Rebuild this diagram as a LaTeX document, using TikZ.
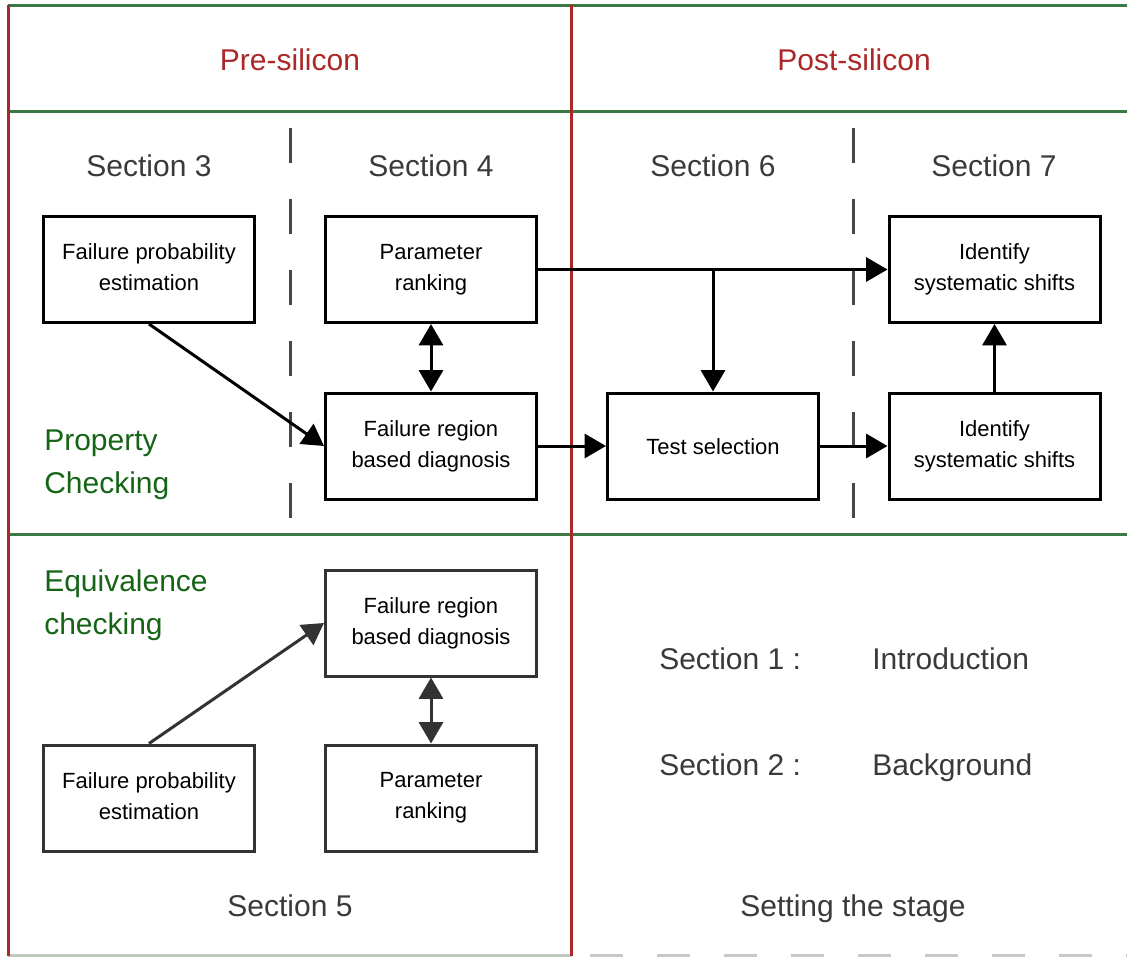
\documentclass[tikz,border=0pt]{standalone}
\usepackage{fontspec}
\setmainfont{Liberation Sans}
\usetikzlibrary{arrows.meta}
\definecolor{lanered}{RGB}{172,40,40}
\definecolor{lanegreen}{RGB}{58,120,68}
\definecolor{labelgreen}{RGB}{22,100,22}
\definecolor{softline}{RGB}{190,204,190}
\definecolor{dashgrey}{RGB}{200,200,200}
\definecolor{textgrey}{RGB}{58,58,58}
\definecolor{boxgrey}{RGB}{51,51,51}
\tikzset{
  stepbox/.style={draw=black, line width=2.25pt, fill=white, minimum width=158.25pt,
    minimum height=79.5pt, inner sep=0pt, align=center,
    execute at begin node={\rule{0pt}{15.6pt}},
    execute at end node={\rule[-3.5pt]{0pt}{1pt}},
    font=\fontsize{16.5pt}{23.25pt}\selectfont},
  greybox/.style={stepbox, draw=boxgrey},
  flow/.style={draw=black, line width=2.25pt, -{Triangle[length=16pt,width=18pt]}},
  flowboth/.style={flow, {Triangle[length=16pt,width=18pt]}-{Triangle[length=16pt,width=18pt]}},
  greyflow/.style={flow, draw=boxgrey, fill=boxgrey},
  greyboth/.style={flowboth, draw=boxgrey, fill=boxgrey},
  phase/.style={text=lanered, font=\fontsize{22.5pt}{27pt}\selectfont, inner sep=0pt,
    text height=16.1pt, text depth=0pt},
  secname/.style={text=textgrey, font=\fontsize{22.5pt}{27pt}\selectfont, inner sep=0pt,
    text height=16.1pt, text depth=0pt},
  kind/.style={text=labelgreen, align=left, inner sep=0pt,
    font=\fontsize{22.5pt}{32.25pt}\selectfont},
  greenrule/.style={draw=lanegreen, line width=2.25pt},
  redrule/.style={draw=lanered, line width=2.25pt},
  divider/.style={draw=boxgrey!90, line width=2.25pt, dash pattern=on 26.25pt off 27pt}
}
\begin{document}
\begin{tikzpicture}[x=0.75pt, y=-0.75pt]
\useasboundingbox (0,0) rectangle (1127,956);
\fill[white] (0,0) rectangle (1127,956);

% lane rules
\draw[greenrule] (8,6) -- (1127,6);
\draw[greenrule] (8,111) -- (1127,111);
\draw[greenrule] (8,534) -- (1127,534);
\draw[draw=softline, line width=2.25pt] (8,955.5) -- (572,955.5);
\draw[draw=dashgrey, line width=2.25pt, dash pattern=on 24.75pt off 25.5pt] (590,955.5) -- (1127,955.5);
\draw[redrule] (8.5,5) -- (8.5,956);
\draw[redrule] (571.5,5) -- (571.5,956);

% section dividers
\draw[divider] (290,128) -- (290,518);
\draw[divider] (853,128) -- (853,518);

% headings
\node[phase] (pre) at (290,60) {Pre-silicon};
\node[phase] (post) at (854,60) {Post-silicon};
\node[secname] (s3) at (149,166) {Section 3};
\node[secname] (s4) at (431,166) {Section 4};
\node[secname] (s6) at (713,166) {Section 6};
\node[secname] (s7) at (994,166) {Section 7};

\node[kind, anchor=west] (prop) at (44,465) {Property\\Checking};
\node[kind, anchor=west] (equiv) at (44,605.5) {Equivalence\\checking};

% property checking flow
\node[stepbox] (fpe1) at (149,269.5) {Failure probability\\estimation};
\node[stepbox] (pr1) at (431,269.5) {Parameter\\ranking};
\node[stepbox] (frd1) at (431,446) {Failure region\\based diagnosis};
\node[stepbox] (ts) at (713,446) {Test selection};
\node[stepbox] (id1) at (994.5,269.5) {Identify\\systematic shifts};
\node[stepbox] (id2) at (994.5,446) {Identify\\systematic shifts};

\coordinate (branch) at (pr1.east -| ts.north);
\draw[flow] (fpe1.south) -- (frd1.west);
\draw[flowboth] (pr1) -- (frd1);
\draw[flow] (frd1) -- (ts);
\draw[flow] (ts) -- (id2);
\draw[flow] (id2) -- (id1);
\draw[flow] (pr1.east) -- (id1.west);
\draw[flow] (branch) -- (ts.north);

% equivalence checking flow
\node[greybox] (frd2) at (431,623) {Failure region\\based diagnosis};
\node[greybox] (fpe2) at (149,798) {Failure probability\\estimation};
\node[greybox] (pr2) at (431,798) {Parameter\\ranking};
\draw[greyflow] (fpe2.north) -- (frd2.west);
\draw[greyboth] (frd2) -- (pr2);

\node[secname] (s5) at (290,906) {Section 5};

% introductory sections
\node[secname, anchor=west] (s1) at (659,659) {Section 1 :};
\node[secname, anchor=west] (intro) at (872,659) {Introduction};
\node[secname, anchor=west] (s2) at (659,765) {Section 2 :};
\node[secname, anchor=west] (back) at (872,765) {Background};
\node[secname] (stage) at (853,906) {Setting the stage};
\end{tikzpicture}
\end{document}
